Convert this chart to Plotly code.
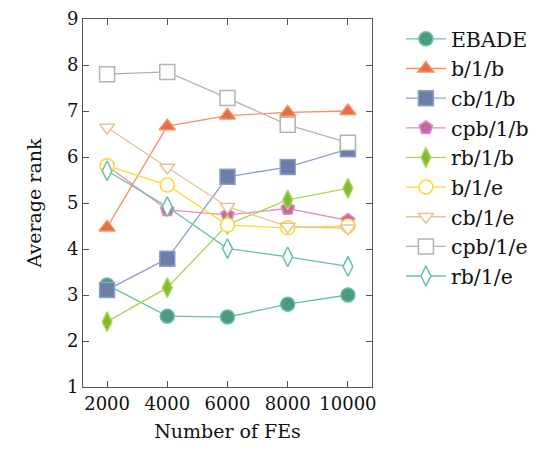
import plotly.graph_objects as go

fes = [2000, 4000, 6000, 8000, 10000]
names = ["EBADE", "b/1/b", "cb/1/b", "cpb/1/b", "rb/1/b", "b/1/e", "cb/1/e", "cpb/1/e", "rb/1/e"]
ebade = [3.22, 2.54, 2.52, 2.80, 3.00]
b1b = [4.47, 6.67, 6.90, 6.97, 7.00]
cb1b = [3.11, 3.79, 5.57, 5.78, 6.17]
cpb1b = [5.81, 4.85, 4.74, 4.88, 4.62]
rb1b = [2.42, 3.16, 4.53, 5.07, 5.32]
b1e = [5.81, 5.39, 4.52, 4.46, 4.50]
cb1e = [6.64, 5.77, 4.92, 4.49, 4.45]
cpb1e = [7.80, 7.85, 7.28, 6.70, 6.31]
rb1e = [5.70, 4.92, 4.01, 3.83, 3.62]
series = [ebade, b1b, cb1b, cpb1b, rb1b, b1e, cb1e, cpb1e, rb1e]

line_colors = ["#66c2a5", "#fc8d62", "#8da0cb", "#e78ac3", "#a6d854", "#ffd92f", "#e5c494", "#b3b3b3", "#66c2a5"]
fill_colors = ["#4d9a80", "#e0704a", "#6d7fa8", "#c06aa2", "#86b836", "white", "white", "white", "white"]
symbols = ["circle", "triangle-up", "square", "pentagon", "diamond-tall", "circle", "triangle-down", "square", "diamond-tall"]
sizes = [14, 14, 15, 14, 14, 14, 13, 15, 14]

fig = go.Figure()
for n, ys, lc, fc, sym, sz in zip(names, series, line_colors, fill_colors, symbols, sizes):
    fig.add_trace(go.Scatter(
        x=fes, y=ys, name=n, mode="lines+markers",
        line=dict(color=lc, width=1.3),
        marker=dict(symbol=sym, size=sz, color=fc, line=dict(color=lc, width=1.5)),
    ))

font = "DejaVu Serif"
fig.update_layout(
    template="none",
    width=556, height=452,
    margin=dict(l=75, r=192, t=11, b=73),
    paper_bgcolor="white", plot_bgcolor="white",
    font=dict(family=font, size=18, color="#111"),
    showlegend=True,
    legend=dict(x=1.10, y=1.0, xanchor="left", yanchor="top",
                font=dict(family=font, size=20.5), bgcolor="rgba(0,0,0,0)",
                itemwidth=40, tracegroupgap=0, maxheight=1.0),
)
fig.update_xaxes(range=[1200, 10800], tickvals=fes, ticktext=[str(v) for v in fes],
                 automargin=False,
                 showgrid=False, zeroline=False, showline=True, linecolor="#555", linewidth=1,
                 mirror="allticks", ticks="inside", ticklen=6, tickcolor="#555",
                 title=dict(text="Number of FEs", standoff=12, font=dict(family=font, size=19)),
                 tickfont=dict(family=font, size=18))
fig.update_yaxes(range=[1, 9], tickvals=list(range(1, 10)),
                 automargin=False,
                 showgrid=False, zeroline=False, showline=True, linecolor="#555", linewidth=1,
                 mirror="allticks", ticks="inside", ticklen=6, tickcolor="#555",
                 title=dict(text="Average rank", standoff=20, font=dict(family=font, size=19)),
                 tickfont=dict(family=font, size=18))
fig.write_html("out.html")
